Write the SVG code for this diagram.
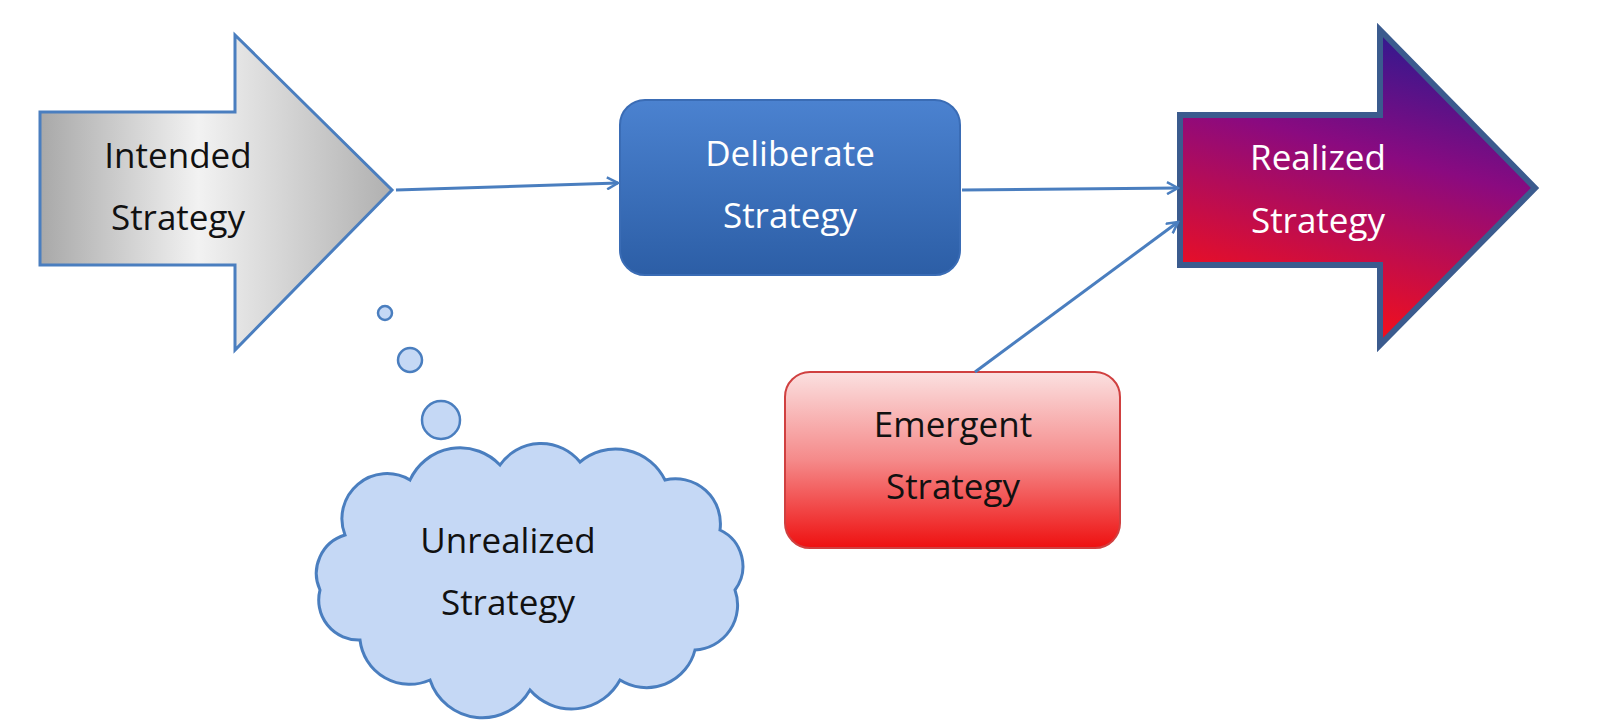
<svg xmlns="http://www.w3.org/2000/svg" width="1600" height="721" viewBox="0 0 1600 721">
<defs>
<linearGradient id="gGray" x1="0" y1="0" x2="1" y2="0"><stop offset="0" stop-color="#a8a8a8"/><stop offset="0.45" stop-color="#f2f2f2"/><stop offset="1" stop-color="#b0b0b0"/></linearGradient>
<linearGradient id="gBlue" x1="0" y1="0" x2="0" y2="1"><stop offset="0" stop-color="#4b82d0"/><stop offset="1" stop-color="#2c5ea6"/></linearGradient>
<linearGradient id="gReal" x1="0.7" y1="0" x2="0.4" y2="1"><stop offset="0" stop-color="#2a1a90"/><stop offset="0.4" stop-color="#8a0a80"/><stop offset="1" stop-color="#ff1010"/></linearGradient>
<linearGradient id="gRed" x1="0" y1="0" x2="0" y2="1"><stop offset="0" stop-color="#fbe0e0"/><stop offset="0.5" stop-color="#f58a8a"/><stop offset="1" stop-color="#ee1010"/></linearGradient>
<marker id="arr" markerWidth="14" markerHeight="14" refX="12" refY="7" orient="auto" markerUnits="userSpaceOnUse"><path d="M1,1 L12,7 L1,13" fill="none" stroke="#4a7ebf" stroke-width="2.5"/></marker>
<style>
text{font-family:"Open Sans","Liberation Sans",sans-serif;font-size:35px;text-anchor:middle}
.con{stroke:#4a7ebf;stroke-width:3;fill:none;marker-end:url(#arr)}
</style>
</defs>
<g id="intended">
<path d="M40,112 H235 V35 L392,190 L235,350 V265 H40 Z" fill="url(#gGray)" stroke="#4a7ebf" stroke-width="3"/>
<text x="178" y="168" fill="#111">Intended</text><text x="178" y="230" fill="#111">Strategy</text>
</g>
<g id="deliberate">
<rect x="620" y="100" width="340" height="175" rx="25" fill="url(#gBlue)" stroke="#3a6cb5" stroke-width="2"/>
<text x="790" y="166" fill="#fff">Deliberate</text><text x="790" y="228" fill="#fff">Strategy</text>
</g>
<g id="realized">
<path d="M1180,115 H1380 V30 L1535,188 L1380,345 V265 H1180 Z" fill="url(#gReal)" stroke="#3b5b8e" stroke-width="6"/>
<text x="1318" y="170" fill="#fff">Realized</text><text x="1318" y="233" fill="#fff">Strategy</text>
</g>
<g id="emergent">
<rect x="785" y="372" width="335" height="176" rx="25" fill="url(#gRed)" stroke="#d04040" stroke-width="2"/>
<text x="953" y="437" fill="#111">Emergent</text><text x="953" y="499" fill="#111">Strategy</text>
</g>
<g id="unrealized">
<circle cx="385" cy="313" r="7" fill="#c5d8f5" stroke="#4a7ebf" stroke-width="2.5"/>
<circle cx="410" cy="360" r="12" fill="#c5d8f5" stroke="#4a7ebf" stroke-width="2.5"/>
<circle cx="441" cy="420" r="19" fill="#c5d8f5" stroke="#4a7ebf" stroke-width="2.5"/>
<path d="M345,535 A45,45 0 0 1 410,480 A55,55 0 0 1 500,465 A50,50 0 0 1 580,462 A55,55 0 0 1 665,480 A45,45 0 0 1 720,530 A40,40 0 0 1 735,590 A45,45 0 0 1 695,650 A50,50 0 0 1 620,680 A55,55 0 0 1 530,690 A55,55 0 0 1 430,680 A50,50 0 0 1 360,640 A40,40 0 0 1 320,590 A40,40 0 0 1 345,535 Z" fill="#c5d8f5" stroke="#4a7ebf" stroke-width="3"/>
<text x="508" y="553" fill="#111">Unrealized</text><text x="508" y="615" fill="#111">Strategy</text>
</g>
<g id="connectors">
<line x1="396" y1="190" x2="618" y2="183" class="con"/>
<line x1="962" y1="190" x2="1178" y2="188" class="con"/>
<line x1="975" y1="372" x2="1178" y2="222" class="con"/>
</g>
</svg>
